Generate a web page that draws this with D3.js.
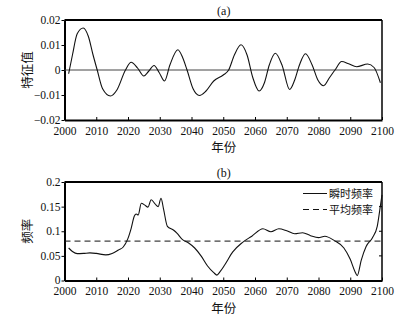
<!DOCTYPE html>
<html>
<head>
<meta charset="utf-8">
<script src="https://cdn.jsdelivr.net/npm/d3@7/dist/d3.min.js"></script>
<style>
  html, body { margin: 0; padding: 0; background: #fff; }
  svg { display: block; }
</style>
</head>
<body>
<svg id="chart" width="406" height="325"></svg>
<script>
// (a) eigenvalue series: year, value
const eigenYears = [2001.3, 2002.5, 2004, 2005.9, 2007.5, 2009, 2010.3, 2012, 2014.5, 2016.5,
  2019.2, 2021, 2023, 2025, 2026.5, 2028.2, 2029.8, 2031.5, 2033.2, 2035.7,
  2037.2, 2038.6, 2040.5, 2042.5, 2044.5, 2047, 2050, 2051.7, 2053.5, 2055.6,
  2057.5, 2059.3, 2061.3, 2063, 2064.5, 2066.4, 2068.5, 2070.9, 2072.5, 2074,
  2075.9, 2078, 2079.8, 2081.6, 2083.5, 2085.2, 2087.3, 2089.5, 2092, 2095.5,
  2097.5, 2099.5];
const eigenValues = [-0.0015, 0.006, 0.0145, 0.0168, 0.0135, 0.006, 0, -0.0075, -0.0104, -0.008,
  0, 0.0031, 0.0008, -0.0024, -0.0005, 0.0018, -0.001, -0.0044, 0.002, 0.0081,
  0.005, 0, -0.0075, -0.0102, -0.0085, -0.0044, -0.002, 0, 0.006, 0.0101,
  0.006, -0.003, -0.0084, -0.005, 0.002, 0.0067, 0.002, -0.0078, -0.004, 0.002,
  0.0065, 0.002, -0.004, -0.0063, -0.003, 0, 0.0034, 0.0025, 0.0013, 0.0024,
  0.001, -0.0051];

// (b) instantaneous frequency: year, value
const freqYears = [2001.3, 2002.5, 2004, 2006, 2008, 2010, 2013, 2015, 2017, 2018.5,
  2019.9, 2021, 2022, 2022.6, 2023.2, 2024.2, 2025.3, 2026.3, 2027.3, 2028.6,
  2029.5, 2030.4, 2031.2, 2032.4, 2034.4, 2035.4, 2037, 2039.1, 2041, 2043,
  2045, 2047, 2048, 2049, 2050.5, 2053, 2056, 2059, 2062.5, 2065,
  2067.5, 2070, 2072.5, 2075, 2077.5, 2080, 2082, 2085, 2088, 2090,
  2091.5, 2092.2, 2093.5, 2095, 2097, 2098.5, 2099.3, 2100];
const freqValues = [0.066, 0.059, 0.0545, 0.055, 0.056, 0.055, 0.052, 0.055, 0.062, 0.068,
  0.084, 0.106, 0.131, 0.135, 0.133, 0.157, 0.153, 0.149, 0.164, 0.155,
  0.15, 0.167, 0.145, 0.11, 0.102, 0.096, 0.084, 0.076, 0.066, 0.05,
  0.03, 0.016, 0.011, 0.018, 0.032, 0.058, 0.077, 0.09, 0.105, 0.099,
  0.105, 0.101, 0.095, 0.097, 0.091, 0.087, 0.09, 0.081, 0.066, 0.043,
  0.018, 0.01, 0.042, 0.069, 0.087, 0.11, 0.143, 0.174];
const meanFreq = 0.08;

const yearTicks = [2000, 2010, 2020, 2030, 2040, 2050, 2060, 2070, 2080, 2090, 2100];
const eigenTicks = [-0.02, -0.01, 0, 0.01, 0.02];
const freqTicks = [0, 0.05, 0.1, 0.15, 0.2];
const legendLabels = ["瞬时频率", "平均频率"];

const SERIF = "'Liberation Serif', 'DejaVu Serif', serif";
const CJK = "'Noto Sans CJK SC', sans-serif";

const svg = d3.select("#chart");
const left = 64.5, right = 382;

const x = d3.scaleLinear().domain([2000, 2100]).range([left, right]);

function panel(top, bottom, yDomain, yTicks, yFmt, title, yLabel, rightTicks) {
  const y = d3.scaleLinear().domain(yDomain).range([bottom, top]);
  const g = svg.append("g");

  // left axis: outward ticks
  const ay = g.append("g").attr("transform", `translate(${left},0)`)
    .call(d3.axisLeft(y).tickValues(yTicks).tickFormat(yFmt).tickSize(3).tickSizeOuter(0).tickPadding(1));
  // bottom axis: inward ticks
  const ax = g.append("g").attr("transform", `translate(0,${bottom})`)
    .call(d3.axisBottom(x).tickValues(yearTicks).tickFormat(d3.format("d")).tickSize(-3).tickSizeOuter(0).tickPadding(6));
  [ay, ax].forEach(a => {
    a.attr("font-family", SERIF).attr("font-size", 11.5);
    a.selectAll(".domain").attr("stroke", "#000").attr("stroke-width", 2);
    a.selectAll(".tick line").attr("stroke", "#000").attr("stroke-width", 1);
    a.selectAll(".tick text").attr("fill", "#111");
  });
  ay.selectAll(".tick text").attr("dy", "0.3em");
  ax.selectAll(".tick text").attr("dy", "0.75em");

  // top and right frame
  g.append("line").attr("x1", left).attr("x2", right).attr("y1", top).attr("y2", top)
    .attr("stroke", "#000").attr("stroke-width", 2);
  g.append("line").attr("x1", right).attr("x2", right).attr("y1", top).attr("y2", bottom)
    .attr("stroke", "#000").attr("stroke-width", 1.5);
  if (rightTicks) {
    rightTicks.forEach(t => {
      g.append("line").attr("x1", right - 3).attr("x2", right).attr("y1", y(t)).attr("y2", y(t))
        .attr("stroke", "#000").attr("stroke-width", 1);
    });
  }

  g.append("text").attr("x", (left + right) / 2 + 0.5).attr("y", top - 5)
    .attr("text-anchor", "middle")
    .attr("font-family", SERIF).attr("font-size", 12).attr("fill", "#111")
    .text(title);
  g.append("text").attr("x", (left + right) / 2 + 0.5).attr("y", bottom + 32)
    .attr("text-anchor", "middle").attr("font-family", CJK).attr("font-size", 12.5).attr("fill", "#111")
    .text("年份");
  g.append("text")
    .attr("transform", `translate(32,${(top + bottom) / 2}) rotate(-90)`)
    .attr("text-anchor", "middle").attr("font-family", CJK).attr("font-size", 12.5).attr("fill", "#111")
    .text(yLabel);
  return { g, y };
}

// panel (a)
const pa = panel(20, 120, [-0.02, 0.02], eigenTicks,
  d => d === 0 ? "0" : d3.format(".2f")(d), "(a)", "特征值");
pa.g.append("line").attr("x1", left).attr("x2", right).attr("y1", pa.y(0)).attr("y2", pa.y(0))
  .attr("stroke", "#444").attr("stroke-width", 1);
pa.g.append("path")
  .datum(eigenYears.map((yr, i) => [yr, eigenValues[i]]))
  .attr("fill", "none").attr("stroke", "#111").attr("stroke-width", 1.1)
  .attr("d", d3.line().x(d => x(d[0])).y(d => pa.y(d[1])).curve(d3.curveMonotoneX));

// panel (b)
const pb = panel(182, 280.5, [0, 0.2], freqTicks,
  d => d === 0 ? "0" : String(d), "(b)", "频率", [0.05, 0.1, 0.15]);
pb.g.append("line").attr("x1", left).attr("x2", right).attr("y1", pb.y(meanFreq)).attr("y2", pb.y(meanFreq))
  .attr("stroke", "#111").attr("stroke-width", 1).attr("stroke-dasharray", "6,4");
pb.g.append("path")
  .datum(freqYears.map((yr, i) => [yr, freqValues[i]]))
  .attr("fill", "none").attr("stroke", "#111").attr("stroke-width", 1.1)
  .attr("d", d3.line().x(d => x(d[0])).y(d => pb.y(d[1])).curve(d3.curveMonotoneX));

// legend
const legend = pb.g.append("g");
[0, 1].forEach(i => {
  const ly = 193.5 + i * 16;
  legend.append("line").attr("x1", 303).attr("x2", 327).attr("y1", ly).attr("y2", ly)
    .attr("stroke", "#111").attr("stroke-width", 1)
    .attr("stroke-dasharray", i === 1 ? "6,4" : null);
  legend.append("text").attr("x", 329).attr("y", ly + 4)
    .attr("font-family", CJK).attr("font-size", 11).attr("fill", "#111")
    .text(legendLabels[i]);
});
</script>
</body>
</html>
